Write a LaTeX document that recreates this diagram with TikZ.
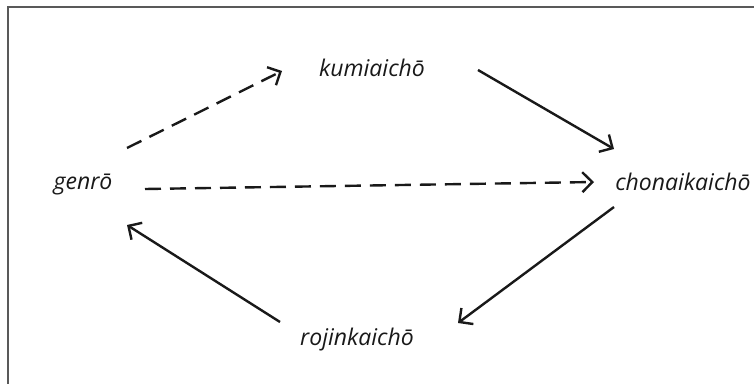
\documentclass[tikz,border=0pt]{standalone}
\usepackage{fontspec}
\setmainfont{Open Sans}
\usetikzlibrary{arrows.meta}
\tikzset{
  term/.style={font=\itshape\fontsize{23}{26}\selectfont, inner sep=0pt, text=black!90},
  link/.style={line width=2.4pt, black!90, -{Straight Barb[length=10pt,width=20pt,line width=2.4pt]}},
  weaklink/.style={link, dash pattern=on 16pt off 9pt},
  frame/.style={line width=2pt, black!65}
}
\begin{document}
\begin{tikzpicture}[x=1pt,y=-1pt]
  \useasboundingbox (0,0) rectangle (755,383);
  % open frame: left and top edges only
  \draw[frame] (7.5,384) -- (7.5,6.5) -- (754,6.5);

  \node[term] (kumi) at (372,68) {kumiaichō};
  \node[term] (genro) at (83,185) {genrō};
  \node[term] (chon) at (683,182) {chonaikaichō};
  \node[term] (rojin) at (357,340) {rojinkaichō};

  \coordinate (g1) at (127,148);
  \coordinate (k1) at (282,71);
  \coordinate (k2) at (478,70);
  \coordinate (c1) at (614,149);
  \coordinate (g2) at (145,189);
  \coordinate (c2) at (594,182);
  \coordinate (c3) at (614,207);
  \coordinate (r1) at (458,323);
  \coordinate (r2) at (280,322);
  \coordinate (g3) at (127,225);

  \draw[weaklink] (g1) -- (k1);
  \draw[link] (k2) -- (c1);
  \draw[weaklink] (g2) -- (c2);
  \draw[link] (c3) -- (r1);
  \draw[link] (r2) -- (g3);
\end{tikzpicture}
\end{document}
